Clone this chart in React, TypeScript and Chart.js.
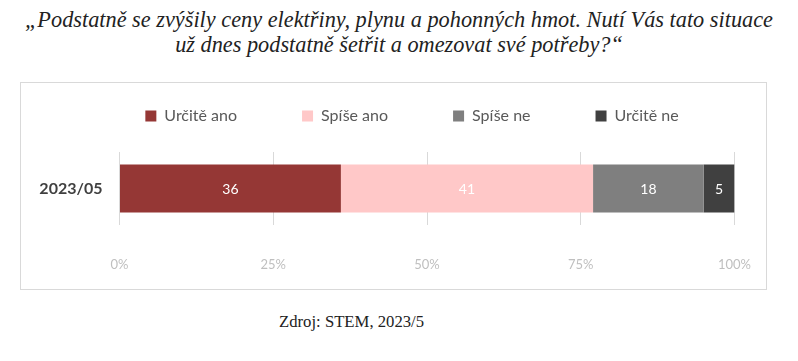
import React, { useEffect, useRef } from "react";
import { Chart, registerables } from "chart.js";

Chart.register(...registerables);

// ---- data ----
const categories = ["2023/05"];
const seriesNames = ["Určitě ano", "Spíše ano", "Spíše ne", "Určitě ne"];
const urciteAno = [36];
const spiseAno = [41];
const spiseNe = [18];
const urciteNe = [5];
const seriesColors = ["#953735", "#FFC8C8", "#7F7F7F", "#404040"];
const xTickValues = [0, 25, 50, 75, 100];
const titleLines = [
  "„Podstatně se zvýšily ceny elektřiny, plynu a pohonných hmot. Nutí Vás tato situace",
  "už dnes podstatně šetřit a omezovat své potřeby?“",
];
const sourceText = "Zdroj: STEM, 2023/5";

// ---- layout constants ----
const CANVAS_W = 747;
const CANVAS_H = 208;
const LEGEND_CENTER_X = 392;
const LEGEND_CENTER_Y = 34;
const LEGEND_FONT = 16;

const barLabelPlugin = {
  id: "barLabels",
  afterDatasetsDraw(chart: any) {
    const ctx = chart.ctx;
    ctx.save();
    ctx.font = "14px Lato";
    ctx.fillStyle = "#ffffff";
    ctx.textAlign = "center";
    ctx.textBaseline = "middle";
    chart.data.datasets.forEach((ds: any, i: number) => {
      const meta = chart.getDatasetMeta(i);
      meta.data.forEach((el: any, j: number) => {
        const p = el.getProps(["x", "y", "base"], true);
        ctx.fillText(String(ds.data[j]), (p.x + p.base) / 2, p.y + 1);
      });
    });
    ctx.restore();
  },
};

const legendPlacePlugin = {
  id: "legendPlace",
  afterLayout(chart: any) {
    const l = chart.legend;
    if (!l) return;
    const shift = LEGEND_CENTER_X - (l.left + l.right) / 2;
    l.left += shift;
    l.right += shift;
    const pad = l.options.labels.padding;
    l.top = LEGEND_CENTER_Y - LEGEND_FONT / 2 - pad;
    l.bottom = LEGEND_CENTER_Y + 20;
    l.height = l.bottom - l.top;
  },
};

function BarChart() {
  const ref = useRef<HTMLCanvasElement | null>(null);
  useEffect(() => {
    if (!ref.current) return;
    const series = [urciteAno, spiseAno, spiseNe, urciteNe];
    const chart = new Chart(ref.current, {
      type: "bar",
      data: {
        labels: categories,
        datasets: series.map((d, i) => ({
          label: seriesNames[i],
          data: d,
          backgroundColor: seriesColors[i],
          borderWidth: 0,
          categoryPercentage: 0.66,
          barPercentage: 1,
        })),
      },
      options: {
        indexAxis: "y",
        responsive: false,
        animation: false,
        layout: { padding: { left: 0, right: 32.5, top: 0, bottom: 0 } },
        plugins: {
          legend: {
            position: "top",
            maxHeight: 70,
            labels: {
              boxWidth: 11,
              boxHeight: 11,
              padding: 65,
              color: "#595959",
              font: { family: "Lato", size: LEGEND_FONT },
            },
          },
          tooltip: { enabled: false },
          title: { display: false },
        },
        scales: {
          x: {
            stacked: true,
            min: 0,
            max: 100,
            afterBuildTicks: (scale: any) => {
              scale.ticks = xTickValues.map((v) => ({ value: v }));
            },
            afterFit: (scale: any) => {
              scale.height = CANVAS_H - 143;
              scale.paddingLeft = 0;
              scale.paddingRight = 0;
            },
            ticks: {
              callback: (v: any) => v + "%",
              color: "#BFBFBF",
              font: { family: "Lato", size: 13 },
              padding: 32,
              maxRotation: 0,
            },
            grid: { color: "#D9D9D9", drawTicks: false, lineWidth: 1 },
            border: { display: false },
          },
          y: {
            stacked: true,
            afterFit: (scale: any) => {
              scale.width = 99.5;
            },
            ticks: {
              color: "#404040",
              font: { family: "Lato", size: 16, weight: "bold" },
              padding: 17,
            },
            grid: { display: false, drawTicks: false },
            border: { display: false },
          },
        },
      } as any,
      plugins: [barLabelPlugin, legendPlacePlugin],
    });
    return () => chart.destroy();
  }, []);
  return (
    <canvas
      ref={ref}
      width={CANVAS_W}
      height={CANVAS_H}
      style={{ position: "absolute", left: 20, top: 82, width: CANVAS_W, height: CANVAS_H }}
    />
  );
}

export default function App() {
  return (
    <div style={{ position: "absolute", left: 0, top: 0, width: 798, height: 361, background: "#fff", overflow: "hidden" }}>
      <div
        style={{
          position: "absolute",
          left: 0,
          top: 7,
          width: 798,
          textAlign: "center",
          fontFamily: "'Liberation Serif', serif",
          fontStyle: "italic",
          fontSize: 22.3,
          lineHeight: "25px",
          color: "#222",
          whiteSpace: "nowrap",
        }}
      >
        {titleLines.map((t, i) => (
          <div key={i}>{t}</div>
        ))}
      </div>
      <div
        style={{
          position: "absolute",
          left: 20,
          top: 82,
          width: 747,
          height: 208,
          boxSizing: "border-box",
          border: "1px solid #D9D9D9",
        }}
      />
      <BarChart />
      <div
        style={{
          position: "absolute",
          left: 279,
          top: 312,
          fontFamily: "'Liberation Serif', serif",
          fontSize: 16.7,
          lineHeight: "20px",
          color: "#222",
          whiteSpace: "nowrap",
        }}
      >
        {sourceText}
      </div>
    </div>
  );
}
